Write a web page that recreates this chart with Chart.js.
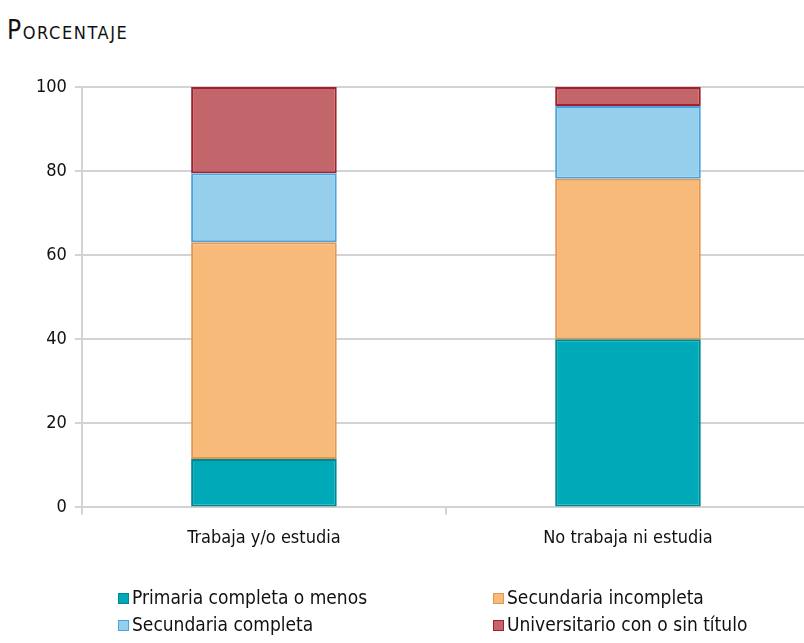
<!DOCTYPE html>
<html>
<head>
<meta charset="utf-8">
<script src="https://cdn.jsdelivr.net/npm/chart.js@4/dist/chart.umd.min.js"></script>
<style>
  html, body { margin: 0; padding: 0; background: #fff; overflow: hidden; width: 804px; height: 643px; }
  body { font-family: "DejaVu Sans Condensed", sans-serif; position: relative; }
  #title { position: absolute; left: 7px; top: 15px; font-size: 26px; font-variant: small-caps; color: #111; letter-spacing: 1.6px; }
  #wrap { position: absolute; left: 0; top: 0; width: 812px; height: 564px; }
  #legend { position: absolute; left: 0; top: 0; width: 804px; height: 643px; pointer-events: none; }
  .item { position: absolute; font-size: 19px; color: #111; white-space: nowrap; }
  .box { position: absolute; width: 9px; height: 9px; border: 1.5px solid; }
</style>
</head>
<body>
<div id="title">Porcentaje</div>
<div id="wrap"><canvas id="c"></canvas></div>
<div id="legend"></div>
<script>
const categories = ["Trabaja y/o estudia", "No trabaja ni estudia"];
const seriesNames = ["Primaria completa o menos", "Secundaria incompleta", "Secundaria completa", "Universitario con o sin título"];
const primaria = [11.5, 40.0];
const secIncompleta = [51.6, 38.2];
const secCompleta = [16.4, 17.3];
const universitario = [20.5, 4.5];
const yTicks = [0, 20, 40, 60, 80, 100];

const fills = ["#00A9B7", "#F8BA78", "#96CFEB", "#C3666B"];
const borders = ["#00878F", "#E4964F", "#4AA3E0", "#A3202B"];
const values = [primaria, secIncompleta, secCompleta, universitario];

const datasets = seriesNames.map((n, i) => ({
  label: n,
  data: values[i],
  backgroundColor: fills[i],
  borderColor: borders[i],
  borderWidth: 2,
  borderSkipped: false,
  categoryPercentage: 1,
  barPercentage: 0.4
}));

const FONT = "'DejaVu Sans Condensed', sans-serif";

new Chart(document.getElementById('c'), {
  type: 'bar',
  data: { labels: categories, datasets },
  options: {
    responsive: true,
    maintainAspectRatio: false,
    animation: false,
    layout: { padding: { top: 87, right: 2, left: 28, bottom: 2 } },
    plugins: { legend: { display: false }, tooltip: { enabled: false } },
    scales: {
      x: {
        stacked: true,
        grid: { display: true, drawOnChartArea: false, drawTicks: true, tickLength: 7, color: '#d3d3d3', lineWidth: 2, offset: true },
        border: { color: '#d3d3d3', width: 2 },
        ticks: { color: '#111', font: { family: FONT, size: 18 }, padding: 13 }
      },
      y: {
        stacked: true,
        min: 0, max: 100,
        afterBuildTicks: (s) => { s.ticks = yTicks.map(v => ({ value: v })); },
        grid: { color: '#d3d3d3', lineWidth: 2, tickLength: 7 },
        border: { color: '#d3d3d3', width: 2 },
        ticks: { color: '#111', font: { family: FONT, size: 18 }, padding: 8 }
      }
    }
  }
});

const leg = document.getElementById('legend');
const pos = [[118, 588], [493, 588], [118, 615], [493, 615]];
seriesNames.forEach((n, i) => {
  const b = document.createElement('div');
  b.className = 'box';
  b.style.left = pos[i][0] + 'px';
  b.style.top = (pos[i][1] + 5) + 'px';
  b.style.background = fills[i];
  b.style.borderColor = borders[i];
  leg.appendChild(b);
  const t = document.createElement('div');
  t.className = 'item';
  t.style.left = (pos[i][0] + 14) + 'px';
  t.style.top = (pos[i][1] - 2) + 'px';
  t.textContent = n;
  leg.appendChild(t);
});
</script>
</body>
</html>
